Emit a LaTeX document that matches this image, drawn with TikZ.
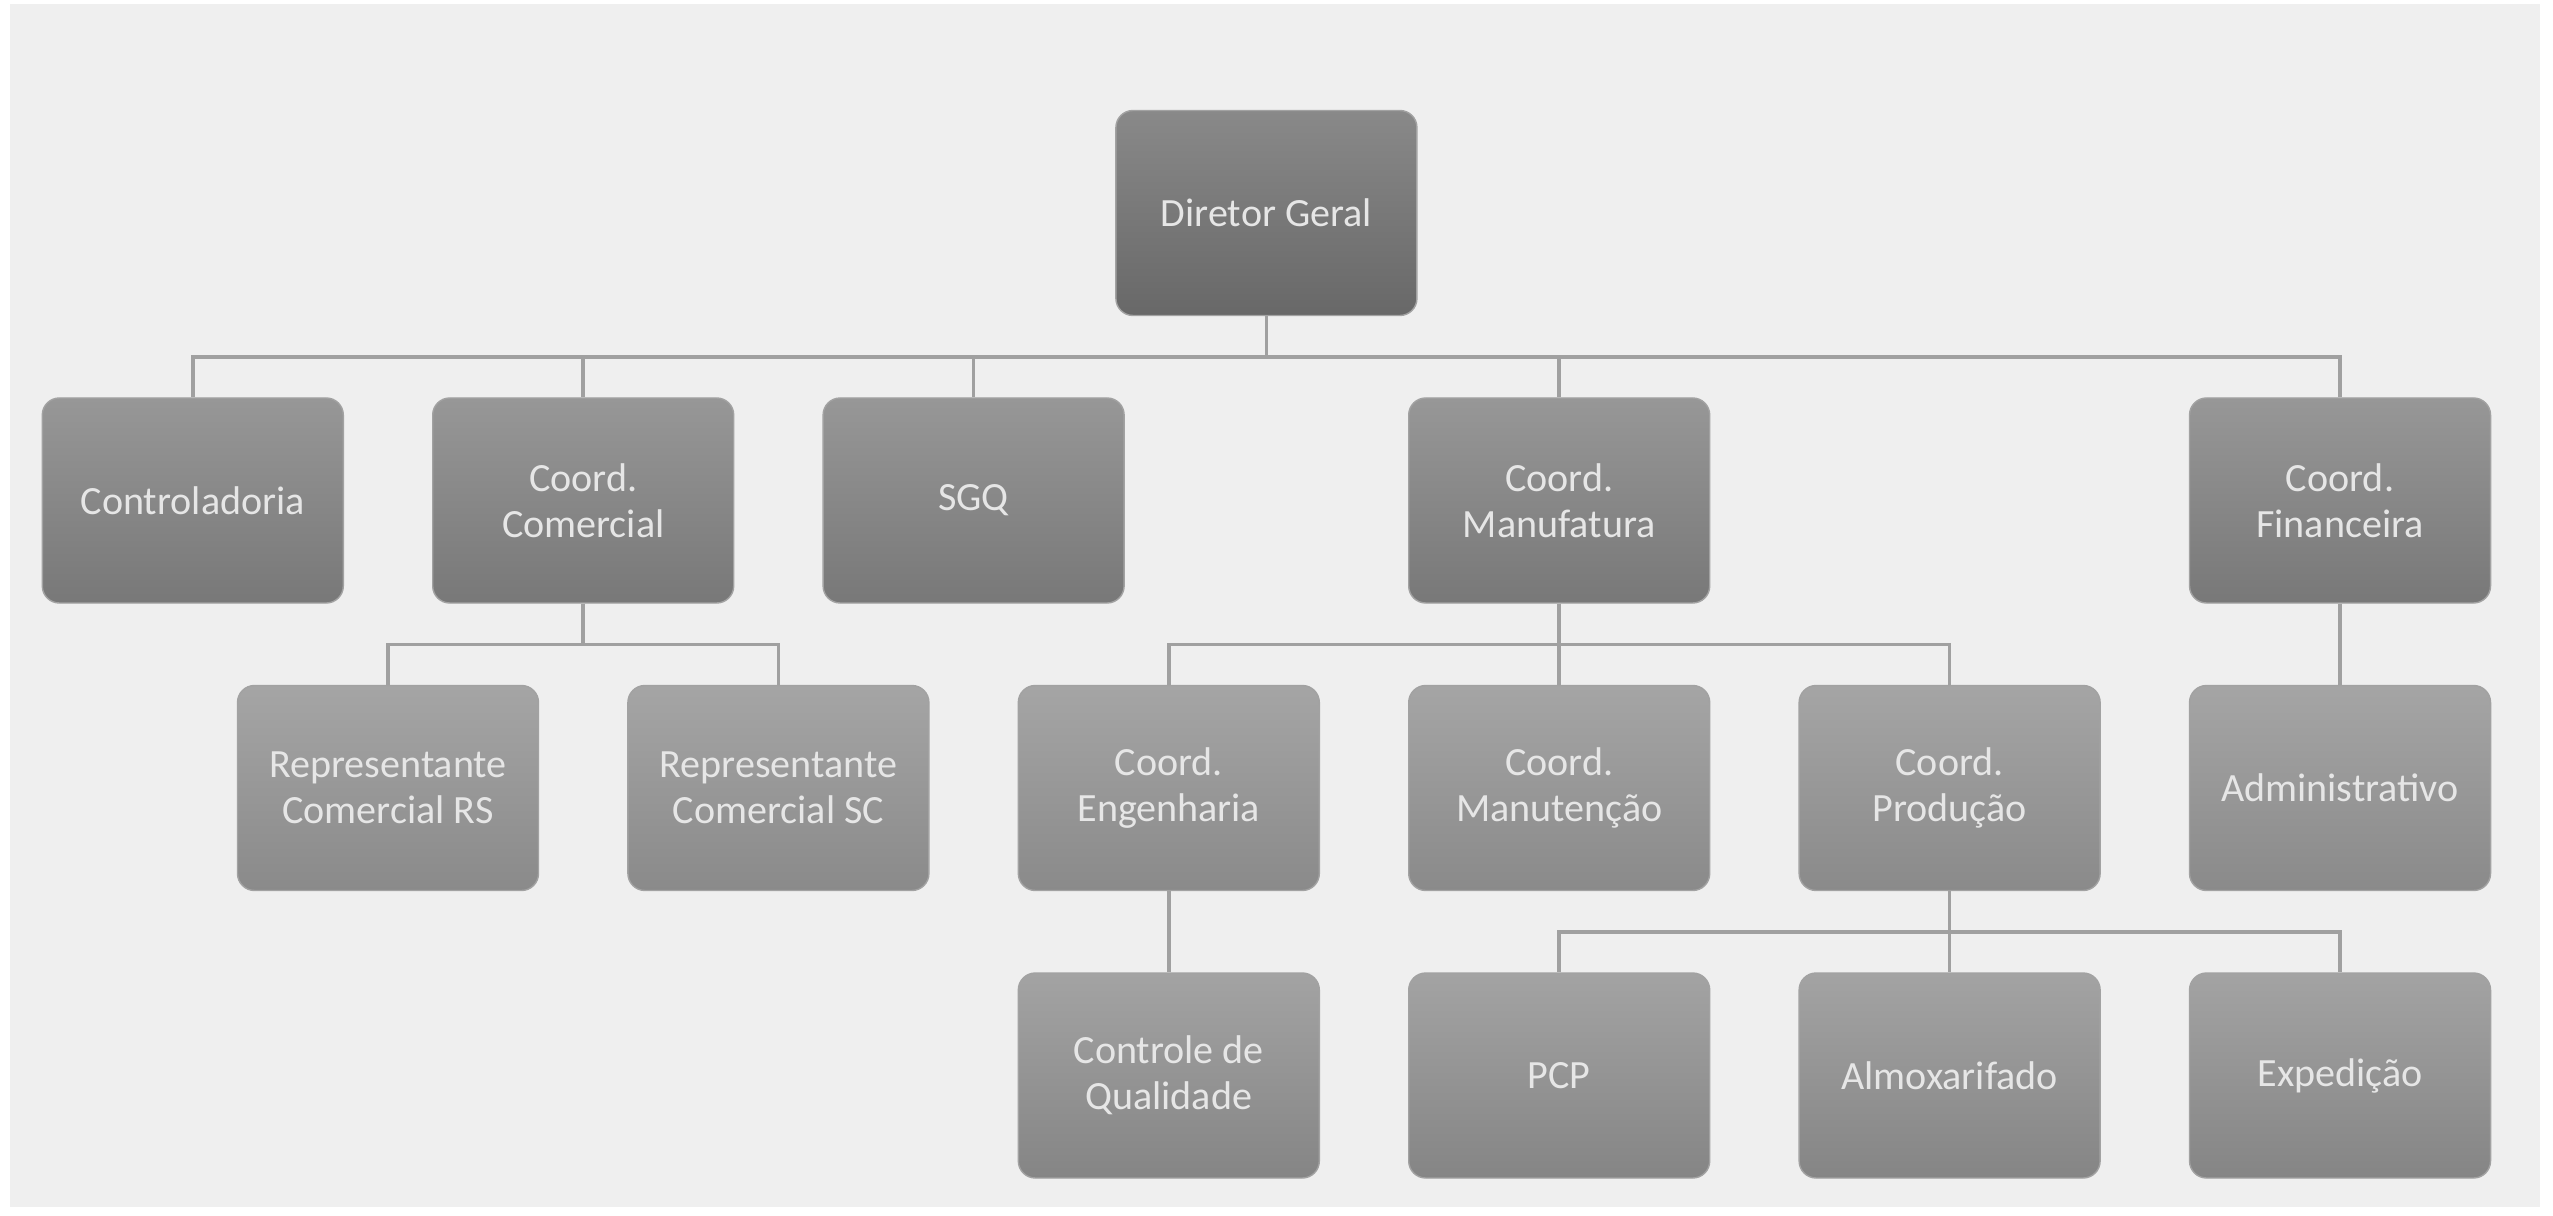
\documentclass[tikz,border=0pt]{standalone}
\usepackage{fontspec}
\setmainfont{Carlito}

\definecolor{panelbg}{HTML}{EFEFEF}
\definecolor{linkgray}{HTML}{A0A0A0}
\definecolor{boxedge}{HTML}{A2A2A2}
\definecolor{boxtext}{HTML}{E6E6E6}

\tikzset{
  unit/.style={rectangle, rounded corners=0.17cm, minimum width=3.01cm, minimum height=2.05cm,
    align=center, text=boxtext, font=\fontsize{11.4}{13.2}\selectfont, draw=boxedge, line width=0.4pt},
  lvlA/.style={unit, top color={rgb,255:red,137;green,137;blue,137}, bottom color={rgb,255:red,104;green,104;blue,104}},
  lvlB/.style={unit, top color={rgb,255:red,151;green,151;blue,151}, bottom color={rgb,255:red,120;green,120;blue,120}},
  lvlC/.style={unit, top color={rgb,255:red,165;green,165;blue,165}, bottom color={rgb,255:red,138;green,138;blue,138}},
  lvlD/.style={unit, top color={rgb,255:red,163;green,163;blue,163}, bottom color={rgb,255:red,133;green,133;blue,133}},
  link/.style={draw=linkgray, line width=1pt},
}

\begin{document}
\begin{tikzpicture}

% Canvas
\useasboundingbox (0,0) rectangle (25.53,-12.16);
\fill[panelbg] (0.10,-0.04) rectangle (25.40,-12.07);

% Top level
\node[lvlA] (dg) at (12.664,-2.13) {Diretor Geral};

% Second level
\node[lvlB] (ctrl)  at (1.928,-5.005)  {Controladoria};
\node[lvlB] (com)   at (5.832,-5.005)  {Coord.\\Comercial};
\node[lvlB] (sgq)   at (9.736,-5.005)  {SGQ};
\node[lvlB] (manuf) at (15.592,-5.005) {Coord.\\Manufatura};
\node[lvlB] (fin)   at (23.400,-5.005) {Coord.\\Financeira};

% Third level
\node[lvlC] (reprs) at (3.880,-7.88)  {Representante\\Comercial RS};
\node[lvlC] (repsc) at (7.784,-7.88)  {Representante\\Comercial SC};
\node[lvlC] (eng)   at (11.688,-7.88) {Coord.\\Engenharia};
\node[lvlC] (manut) at (15.592,-7.88) {Coord.\\Manutenção};
\node[lvlC] (prod)  at (19.496,-7.88) {Coord.\\Produção};
\node[lvlC] (adm)   at (23.400,-7.88) {Administrativo};

% Fourth level
\node[lvlD] (cq)    at (11.688,-10.755) {Controle de\\Qualidade};
\node[lvlD] (pcp)   at (15.592,-10.755) {PCP};
\node[lvlD] (almox) at (19.496,-10.755) {Almoxarifado};
\node[lvlD] (exped) at (23.400,-10.755) {Expedição};

% Elbow links, parent to child
\foreach \p/\c in {dg/ctrl, dg/com, dg/sgq, dg/manuf, dg/fin,
                   com/reprs, com/repsc, manuf/eng, manuf/manut, manuf/prod, fin/adm,
                   eng/cq, prod/pcp, prod/almox, prod/exped} {
  \draw[link] (\p.south) -- ++(0,-0.41) -| (\c.north);
}

\end{tikzpicture}
\end{document}
